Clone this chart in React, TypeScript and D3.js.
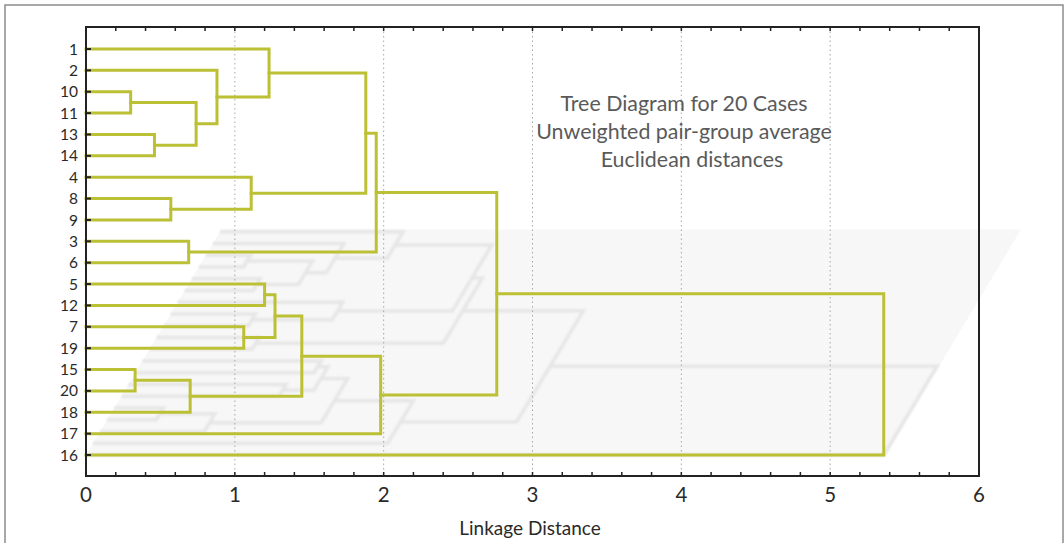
import { useRef, useEffect } from 'react';
import * as d3 from 'd3';

const LEAVES = ['1', '2', '10', '11', '13', '14', '4', '8', '9', '3', '6', '5', '12', '7', '19', '15', '20', '18', '17', '16'];

// each merge joins two members (leaf label or earlier cluster id) at a linkage distance
const MERGE_LEFT = ['10', '13', 'c1', '2', '1', '8', '4', 'c5', '3', 'c8', '5', '7', 'c11', '15', 'c14', 'c13', 'c16', 'c10', 'c18'];
const MERGE_RIGHT = ['11', '14', 'c2', 'c3', 'c4', '9', 'c6', 'c7', '6', 'c9', '12', '19', 'c12', '20', '18', 'c15', '17', 'c17', '16'];
const MERGE_DIST = [0.3, 0.46, 0.74, 0.88, 1.23, 0.57, 1.11, 1.88, 0.69, 1.95, 1.2, 1.06, 1.27, 0.33, 0.7, 1.45, 1.98, 2.76, 5.36];

const X_TICKS = [0, 1, 2, 3, 4, 5, 6];
const TITLE_LINES = ['Tree Diagram for 20 Cases', 'Unweighted pair-group average', 'Euclidean distances'];

const W = 1064;
const H = 543;
const LINE = '#bcc034';
const FONT = 'Lato, "Open Sans", sans-serif';

export default function App() {
  const svgRef = useRef<SVGSVGElement>(null);

  useEffect(() => {
    const svg = d3.select(svgRef.current);
    svg.selectAll('*').remove();

    const left = 86, right = 979, top = 27, bottom = 476;

    const x = d3.scaleLinear().domain([0, 6]).range([left, right]);
    const y = d3.scalePoint<string>().domain(LEAVES).range([49, 455]);

    // positions of leaves and clusters
    const pos: Record<string, { y: number; h: number }> = {};
    LEAVES.forEach((l) => { pos[l] = { y: y(l)!, h: 0 }; });
    const links: [number, number][][] = [];
    MERGE_DIST.forEach((d, i) => {
      const a = pos[MERGE_LEFT[i]];
      const b = pos[MERGE_RIGHT[i]];
      links.push([[x(a.h), a.y], [x(d), a.y], [x(d), b.y], [x(b.h), b.y]]);
      pos['c' + (i + 1)] = { y: (a.y + b.y) / 2, h: d };
    });

    // floor shadow projection
    const yBase = y('16')!;
    const k = 0.55, s = 0.6;
    const proj = ([px, py]: [number, number]): [number, number] => {
      const yp = yBase - (yBase - py) * k;
      return [px + (yBase - yp) * s, yp];
    };

    const defs = svg.append('defs');
    defs.append('filter').attr('id', 'blur').attr('x', '-5%').attr('y', '-5%').attr('width', '110%').attr('height', '110%')
      .append('feGaussianBlur').attr('stdDeviation', 1.2);

    // outer border
    svg.append('rect').attr('x', 5).attr('y', 5).attr('width', 1058).attr('height', 560)
      .attr('fill', '#fff').attr('stroke', '#8c8c8c').attr('stroke-width', 1.5);

    const line = d3.line();

    // shadow
    const maxX = x(d3.max(MERGE_DIST)!) + 2;
    const box: [number, number][] = [[left, y('1')! - 4], [maxX, y('1')! - 4], [maxX, yBase + 3], [left, yBase + 3]];
    svg.append('path').attr('d', line(box.map(proj)) + 'Z').attr('fill', '#f7f7f7');
    const sh = svg.append('g').attr('filter', 'url(#blur)');
    links.forEach((pts) => {
      sh.append('path').attr('d', line(pts.map(proj))).attr('fill', 'none')
        .attr('stroke', '#e6e6e6').attr('stroke-width', 3.5);
    });

    // grid
    X_TICKS.slice(1, -1).forEach((t) => {
      svg.append('line').attr('x1', x(t)).attr('x2', x(t)).attr('y1', top).attr('y2', bottom)
        .attr('stroke', '#a8a8a8').attr('stroke-width', 1).attr('stroke-dasharray', '1.5,3');
    });

    // title
    const title = svg.append('text').attr('font-family', FONT).attr('font-size', 21.4).attr('fill', '#5a5a5a')
      .attr('text-anchor', 'middle');
    TITLE_LINES.forEach((t, i) => {
      title.append('tspan').attr('x', i === 2 ? 692 : 684).attr('y', 111 + i * 28).text(t);
    });

    // dendrogram
    const g = svg.append('g');
    links.forEach((pts) => {
      g.append('path').attr('d', line(pts)).attr('fill', 'none')
        .attr('stroke', LINE).attr('stroke-width', 3).attr('stroke-linejoin', 'miter').attr('stroke-linecap', 'square');
    });

    // frame
    svg.append('rect').attr('x', left).attr('y', top).attr('width', right - left).attr('height', bottom - top)
      .attr('fill', 'none').attr('stroke', '#222').attr('stroke-width', 2);

    // minor ticks
    d3.range(0, 30).forEach((i) => {
      const tx = x(i * 0.2);
      svg.append('line').attr('x1', tx).attr('x2', tx).attr('y1', bottom).attr('y2', bottom - 4).attr('stroke', '#222').attr('stroke-width', 1.5);
      svg.append('line').attr('x1', tx).attr('x2', tx).attr('y1', top).attr('y2', top + 4).attr('stroke', '#222').attr('stroke-width', 1.5);
    });
    LEAVES.forEach((l) => {
      svg.append('line').attr('x1', left).attr('x2', left + 5).attr('y1', y(l)!).attr('y2', y(l)!)
        .attr('stroke', '#222').attr('stroke-width', 2);
    });

    // labels
    svg.append('g').selectAll('text').data(LEAVES).join('text')
      .attr('x', 78).attr('y', (d) => y(d)!).attr('dy', '0.36em').attr('text-anchor', 'end')
      .attr('font-family', FONT).attr('font-size', 15.5).attr('fill', '#2a2a2a').text((d) => d);

    svg.append('g').selectAll('text').data(X_TICKS).join('text')
      .attr('x', (d) => x(d)).attr('y', 502).attr('text-anchor', 'middle')
      .attr('font-family', FONT).attr('font-size', 20.5).attr('fill', '#2a2a2a').text((d) => d);

    svg.append('text').attr('x', 530).attr('y', 535).attr('text-anchor', 'middle')
      .attr('font-family', FONT).attr('font-size', 19).attr('fill', '#2a2a2a').text('Linkage Distance');
  }, []);

  return (
    <svg ref={svgRef} width={W} height={H}
      style={{ position: 'absolute', left: 0, top: 0, display: 'block', background: '#fff' }} />
  );
}
